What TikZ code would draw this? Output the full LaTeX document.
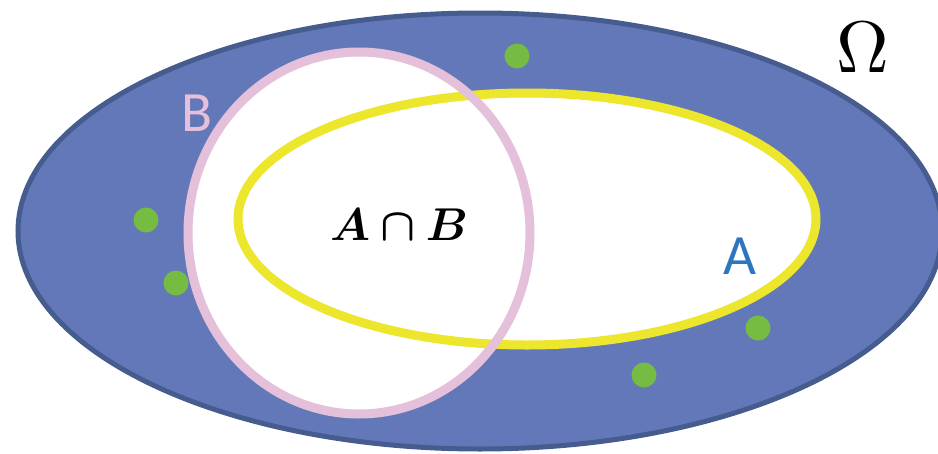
\documentclass[tikz,border=0pt]{standalone}
\usepackage{graphicx}
\usepackage{fontspec}
\setsansfont{Carlito}
\usepackage{amsmath}
\usepackage{bm}
\definecolor{omegafill}{RGB}{99,120,184}
\definecolor{omegaedge}{RGB}{70,92,142}
\definecolor{pinkB}{RGB}{228,192,218}
\definecolor{yellowA}{RGB}{236,230,44}
\definecolor{dotgreen}{RGB}{118,188,66}
\definecolor{blueA}{RGB}{46,117,192}
\tikzset{
  dot/.style={fill=dotgreen, draw=none},
  lbl/.style={inner sep=0pt, font=\sffamily\fontsize{57}{60}\selectfont},
}
\begin{document}
\begin{tikzpicture}[x=1pt,y=-1pt]
\useasboundingbox (0,0) rectangle (938,453);
\clip (0,0) rectangle (938,453);
% universe
\draw[fill=omegafill, draw=omegaedge, line width=5pt] (480,231) ellipse [x radius=462pt, y radius=218pt];
% white interiors
\fill[white] (527,219) ellipse [x radius=289pt, y radius=126pt];
\fill[white] (359,233) ellipse [x radius=171pt, y radius=181pt];
% outlines
\draw[yellowA, line width=9pt] (527,219) ellipse [x radius=289pt, y radius=126pt];
\draw[pinkB, line width=9pt] (359,233) ellipse [x radius=171pt, y radius=181pt];
% green points
\fill[dot] (517,56) circle [radius=12.5pt];
\fill[dot] (146,220) circle [radius=12.5pt];
\fill[dot] (176,283) circle [radius=12.5pt];
\fill[dot] (758,328) circle [radius=12.5pt];
\fill[dot] (644,375) circle [radius=12.5pt];
% labels
\node[lbl, text=pinkB] (labB) at (197,113) {B};
\node[lbl, text=blueA] (labA) at (740,256) {A};
\node[inner sep=0pt] (omega) at (863,48) {\scalebox{7.3}{$\Omega$}};
\node[inner sep=0pt] (ab) at (399,225) {\scalebox{4.6}{$\bm{A\cap B}$}};
\end{tikzpicture}
\end{document}
